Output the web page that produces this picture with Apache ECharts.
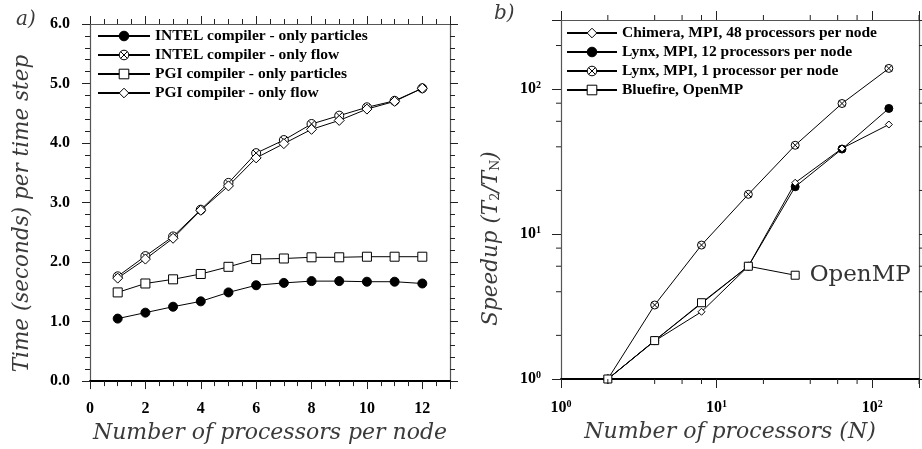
<!DOCTYPE html>
<html>
<head>
<meta charset="utf-8">
<script src="https://cdn.jsdelivr.net/npm/echarts@6/dist/echarts.min.js"></script>
<style>
  html, body { margin: 0; padding: 0; background: #fff; }
  #chart { width: 922px; height: 449px; }
</style>
</head>
<body>
<div id="chart"></div>
<script>
// panel a): time per step vs processors per node
const procsPerNode = [1, 2, 3, 4, 5, 6, 7, 8, 9, 10, 11, 12];
const intelParticles = [1.05, 1.15, 1.25, 1.34, 1.49, 1.61, 1.65, 1.68, 1.68, 1.67, 1.67, 1.64];
const intelFlow = [1.76, 2.10, 2.43, 2.88, 3.33, 3.83, 4.05, 4.32, 4.46, 4.60, 4.71, 4.92];
const pgiParticles = [1.49, 1.64, 1.71, 1.80, 1.92, 2.05, 2.06, 2.08, 2.08, 2.09, 2.09, 2.09];
const pgiFlow = [1.73, 2.05, 2.40, 2.87, 3.28, 3.75, 3.99, 4.23, 4.38, 4.57, 4.70, 4.92];

// panel b): speedup vs number of processors
const procsN = [2, 4, 8, 16, 32, 64, 128];
const chimera = [1, 1.83, 2.91, 6.0, 22.6, 39, 57];
const lynx12 = [1, 1.84, null, 6.0, 21.2, 38.6, 73.6];
const lynx1 = [1, 3.24, 8.4, 18.8, 41, 79.6, 139];
const bluefire = [1, 1.84, 3.36, 6.0, 5.2, null, null];
const logMinorTicks = [2, 4, 6, 8, 20, 40, 60, 80, 200];

const serif = 'Liberation Serif';
const mathFont = 'DejaVu Serif';
// hollow markers as paths so the outline stays 1px
const circleX = 'path://M10,0A10,10,0,1,1,10,20A10,10,0,1,1,10,0ZM2.93,2.93L17.07,17.07M17.07,2.93L2.93,17.07';
const hollowSquare = 'path://M0,0H20V20H0Z';
const hollowDiamond = 'path://M10,0L19,11L10,22L1,11Z';

const chart = echarts.init(document.getElementById('chart'));

function pairs(xs, ys) {
  return xs.map((x, i) => [x, ys[i]]);
}

function lineSeries(name, xi, yi, data, symbol, size) {
  const filled = symbol === 'circle';
  return {
    name: name,
    type: 'line',
    xAxisIndex: xi,
    yAxisIndex: yi,
    data: data,
    symbol: symbol,
    symbolSize: size,
    showAllSymbol: true,
    connectNulls: true,
    color: '#000',
    lineStyle: { color: '#000', width: 1 },
    itemStyle: { color: filled ? '#000' : '#fff', borderColor: '#000', borderWidth: 1 },
    emphasis: { disabled: true },
    z: 3
  };
}

function supLabel(v) {
  const e = Math.log10(v);
  if (Math.abs(e - Math.round(e)) > 1e-6) return '';
  return '{b|10}{s|' + Math.round(e) + '}';
}

const tickLabelStyle = { color: '#000', fontFamily: serif, fontWeight: 'bold', fontSize: 16 };
const supRich = {
  b: { fontFamily: serif, fontWeight: 'bold', fontSize: 16, color: '#000' },
  s: { fontFamily: serif, fontWeight: 'bold', fontSize: 10, color: '#000', padding: [0, 0, 8, 0] }
};
const nameColor = '#3a3a3a';
const axisNameStyle = { fontFamily: mathFont, fontStyle: 'italic', fontSize: 22, color: nameColor };
const tickColor = '#222';

function frameAxis(base, pos, lineColor) {
  return Object.assign({}, base, {
    position: pos,
    axisLabel: { show: false },
    name: '',
    axisLine: { show: true, onZero: false, lineStyle: { color: lineColor, width: 1.2 } }
  });
}

const leftX = {
  type: 'value', gridIndex: 0, min: 0, max: 13, interval: 2,
  axisLine: { onZero: false, lineStyle: { color: '#000', width: 2 } },
  axisTick: { show: true, length: 8, lineStyle: { color: tickColor } },
  minorTick: { show: true, splitNumber: 4, length: 5, lineStyle: { color: tickColor, width: 1 } },
  splitLine: { show: false },
  minorSplitLine: { show: false },
  axisLabel: Object.assign({ margin: 20, showMaxLabel: false }, tickLabelStyle),
  name: 'Number of processors per node',
  nameLocation: 'middle', nameGap: 38, nameTextStyle: axisNameStyle
};
const leftY = {
  type: 'value', gridIndex: 0, min: 0, max: 6, interval: 1,
  axisLine: { onZero: false, lineStyle: { color: '#555', width: 1.2 } },
  axisTick: { show: true, length: 8, lineStyle: { color: tickColor } },
  minorTick: { show: true, splitNumber: 5, length: 5, lineStyle: { color: tickColor, width: 1 } },
  splitLine: { show: false },
  minorSplitLine: { show: false },
  axisLabel: Object.assign({ margin: 20, formatter: v => v.toFixed(1) }, tickLabelStyle),
  name: 'Time (seconds) per time step',
  nameLocation: 'middle', nameGap: 57,
  nameTextStyle: Object.assign({}, axisNameStyle, { fontSize: 21.5, padding: [0, 22, 0, 0] })
};
const rightX = {
  type: 'log', logBase: 10, gridIndex: 1, min: 1, max: 200,
  axisLine: { onZero: false, lineStyle: { color: '#000', width: 2 } },
  axisTick: { show: true, length: 9, lineStyle: { color: tickColor } },
  splitLine: { show: false },
  axisLabel: { margin: 20, formatter: supLabel, rich: supRich },
  name: 'Number of processors (N)',
  nameLocation: 'middle', nameGap: 38,
  nameTextStyle: Object.assign({}, axisNameStyle, { padding: [0, 20, 0, 0] })
};
const rightY = {
  type: 'log', logBase: 10, gridIndex: 1, min: 1, max: 300,
  axisLine: { onZero: false, lineStyle: { color: '#555', width: 1.2 } },
  axisTick: { show: true, length: 9, lineStyle: { color: tickColor } },
  splitLine: { show: false },
  axisLabel: { margin: 20, formatter: supLabel, rich: supRich },
  name: '{i|Speedup (T}{sub|2}{i|/T}{sub|N}{i|)}',
  nameLocation: 'middle', nameGap: 59,
  nameTextStyle: {
    padding: [0, 78, 0, 0],
    rich: {
      i: Object.assign({}, axisNameStyle, { fontSize: 21.5 }),
      sub: { fontFamily: mathFont, fontSize: 13, color: nameColor, padding: [9, 0, 0, 0] }
    }
  }
};

// minor ticks on all four sides of the log panel
const minorData = [];
logMinorTicks.forEach(v => {
  minorData.push([v, 1, 0], [v, 300, 1], [1, v, 2], [200, v, 3]);
});

const bluefireData = pairs(procsN, bluefire).filter(p => p[1] != null);
const lastBf = bluefireData.length - 1;
bluefireData[lastBf] = {
  value: bluefireData[lastBf],
  label: {
    show: true, position: 'right', distance: 10,
    formatter: 'OpenMP', fontFamily: mathFont, fontSize: 23, color: '#333'
  }
};

const legendText = { color: '#000', fontFamily: serif, fontWeight: 'bold', fontSize: 15.5, lineHeight: 15.5 };

const option = {
  animation: false,
  backgroundColor: '#fff',
  grid: [
    { left: 90, right: 472, top: 24, bottom: 67 },
    { left: 561, right: 2, top: 20, bottom: 70 }
  ],
  xAxis: [leftX, frameAxis(leftX, 'top', '#555'), rightX, frameAxis(rightX, 'top', '#555')],
  yAxis: [leftY, frameAxis(leftY, 'right', '#555'), rightY, frameAxis(rightY, 'right', '#555')],
  legend: [
    {
      orient: 'vertical', left: 97, top: 28, itemWidth: 52, itemHeight: 12, itemGap: 3,
      padding: 0, selectedMode: false, textStyle: legendText,
      itemStyle: { borderWidth: 1 },
      data: ['INTEL compiler - only particles', 'INTEL compiler - only flow',
             'PGI compiler - only particles', 'PGI compiler - only flow']
    },
    {
      orient: 'vertical', left: 566, top: 25, itemWidth: 50, itemHeight: 12, itemGap: 3,
      padding: 0, selectedMode: false, textStyle: legendText,
      itemStyle: { borderWidth: 1 },
      data: ['Chimera, MPI, 48 processors per node', 'Lynx, MPI, 12 processors per node',
             'Lynx, MPI, 1 processor per node', 'Bluefire, OpenMP']
    }
  ],
  graphic: [
    { type: 'text', left: 16, top: 10, style: { text: 'a)', fontFamily: mathFont, fontStyle: 'italic', fontSize: 20, fill: nameColor } },
    { type: 'text', left: 494, top: 4, style: { text: 'b)', fontFamily: mathFont, fontStyle: 'italic', fontSize: 20, fill: nameColor } }
  ],
  series: [
    lineSeries('INTEL compiler - only particles', 0, 0, pairs(procsPerNode, intelParticles), 'circle', 9),
    lineSeries('INTEL compiler - only flow', 0, 0, pairs(procsPerNode, intelFlow), circleX, 9),
    lineSeries('PGI compiler - only particles', 0, 0, pairs(procsPerNode, pgiParticles), hollowSquare, 9),
    lineSeries('PGI compiler - only flow', 0, 0, pairs(procsPerNode, pgiFlow), hollowDiamond, 10),
    lineSeries('Lynx, MPI, 12 processors per node', 2, 2, pairs(procsN, lynx12), 'circle', 8),
    lineSeries('Lynx, MPI, 1 processor per node', 2, 2, pairs(procsN, lynx1), circleX, 8),
    lineSeries('Chimera, MPI, 48 processors per node', 2, 2, pairs(procsN, chimera), hollowDiamond, 7),
    lineSeries('Bluefire, OpenMP', 2, 2, bluefireData, hollowSquare, 8),
    {
      // minor ticks of the log axes, placed through the log scales
      type: 'custom',
      xAxisIndex: 2,
      yAxisIndex: 2,
      data: minorData,
      encode: { x: 0, y: 1 },
      clip: false,
      silent: true,
      z: 5,
      renderItem: function (params, api) {
        const p = api.coord([api.value(0), api.value(1)]);
        const side = api.value(2);
        const len = 5;
        const d = [[0, len], [0, -len], [-len, 0], [len, 0]][side];
        return {
          type: 'line',
          shape: { x1: p[0], y1: p[1], x2: p[0] + d[0], y2: p[1] + d[1] },
          style: { stroke: tickColor, lineWidth: 1 }
        };
      }
    }
  ]
};

chart.setOption(option);
window.addEventListener('resize', () => chart.resize());
</script>
</body>
</html>
